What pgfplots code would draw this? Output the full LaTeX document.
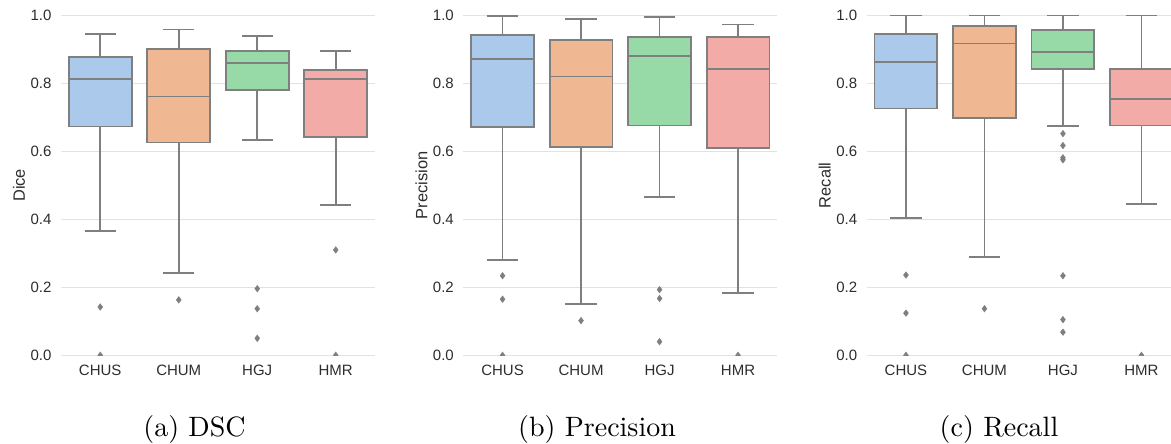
\documentclass[border=0pt]{standalone}
\usepackage{fontspec}
\usepackage{graphicx}
\usepackage{pgfplots}
\pgfplotsset{compat=1.18}
\usepgfplotslibrary{statistics}
\newfontfamily\sbfont{Liberation Sans}

\definecolor{cblue}{RGB}{171,201,234}
\definecolor{corange}{RGB}{239,183,146}
\definecolor{cgreen}{RGB}{152,218,167}
\definecolor{cred}{RGB}{243,171,168}
\definecolor{boxgray}{RGB}{127,127,127}
\definecolor{gridgray}{RGB}{226,226,226}
\definecolor{txtgray}{RGB}{45,45,45}

\pgfplotsset{
  sbaxis/.style={
    scale only axis, width=314pt, height=340pt, anchor=south west,
    xmin=-0.5, xmax=3.5, ymin=0, ymax=1,
    xtick={0,1,2,3}, xticklabels={CHUS,CHUM,HGJ,HMR},
    ytick={0,0.2,0.4,0.6,0.8,1.0},
    ymajorgrids, y grid style={gridgray, line width=1.2pt},
    axis line style={draw=none}, major tick length=0pt, tick style={draw=none},
    clip marker paths=true,
    /pgf/number format/assume math mode=true,
    yticklabel style={/pgf/number format/fixed, /pgf/number format/fixed zerofill, /pgf/number format/precision=1},
    ticklabel style={font=\sbfont\fontsize{15}{18}\selectfont, text=txtgray, inner sep=0pt},
    xticklabel style={anchor=north, yshift=-10pt},
    yticklabel style={anchor=east, xshift=-9.3pt},
    every axis y label/.style={at={(axis description cs:0,0.5)}, xshift=-36pt, rotate=90, anchor=base,
      font=\sbfont\fontsize{16.4}{19}\selectfont, text=txtgray},
    boxplot/draw direction=y,
    boxplot/box extend=0.8,
    boxplot/whisker extend=0.4,
  },
  sbbox/.style={draw=boxgray, fill=#1, line width=1.8pt, solid,
    mark=diamond*, mark size=3.3pt, mark options={draw=boxgray, fill=boxgray, line width=0.4pt}},
}

\begin{document}
\begin{tikzpicture}
\path[use as bounding box, clip] (0,0) rectangle (1171pt,444pt);

% (a) DSC
\begin{axis}[sbaxis, at={(61pt,88.7pt)}, ylabel={Dice}]
\addplot[sbbox=cblue, boxplot prepared={draw position=0, lower whisker=0.365, lower quartile=0.673, median=0.812, upper quartile=0.878, upper whisker=0.946}]
  table[row sep=\\, y index=0] {0.142\\ 0.0\\};
\addplot[sbbox=corange, boxplot prepared={draw position=1, lower whisker=0.241, lower quartile=0.626, median=0.761, upper quartile=0.900, upper whisker=0.958}]
  table[row sep=\\, y index=0] {0.163\\};
\addplot[sbbox=cgreen, boxplot prepared={draw position=2, lower whisker=0.633, lower quartile=0.781, median=0.860, upper quartile=0.896, upper whisker=0.939}]
  table[row sep=\\, y index=0] {0.196\\ 0.137\\ 0.050\\};
\addplot[sbbox=cred, boxplot prepared={draw position=3, lower whisker=0.443, lower quartile=0.643, median=0.812, upper quartile=0.839, upper whisker=0.895}]
  table[row sep=\\, y index=0] {0.310\\ 0.0\\};
\end{axis}

% (b) Precision
\begin{axis}[sbaxis, at={(463.3pt,88.7pt)}, ylabel={Precision}]
\addplot[sbbox=cblue, boxplot prepared={draw position=0, lower whisker=0.281, lower quartile=0.672, median=0.872, upper quartile=0.943, upper whisker=0.999}]
  table[row sep=\\, y index=0] {0.234\\ 0.165\\ 0.0\\};
\addplot[sbbox=corange, boxplot prepared={draw position=1, lower whisker=0.152, lower quartile=0.613, median=0.820, upper quartile=0.928, upper whisker=0.989}]
  table[row sep=\\, y index=0] {0.102\\};
\addplot[sbbox=cgreen, boxplot prepared={draw position=2, lower whisker=0.465, lower quartile=0.676, median=0.880, upper quartile=0.936, upper whisker=0.996}]
  table[row sep=\\, y index=0] {0.193\\ 0.167\\ 0.040\\};
\addplot[sbbox=cred, boxplot prepared={draw position=3, lower whisker=0.183, lower quartile=0.609, median=0.843, upper quartile=0.937, upper whisker=0.973}]
  table[row sep=\\, y index=0] {0.0\\};
\end{axis}

% (c) Recall
\begin{axis}[sbaxis, at={(866.7pt,88.7pt)}, ylabel={Recall}]
\addplot[sbbox=cblue, boxplot prepared={draw position=0, lower whisker=0.403, lower quartile=0.726, median=0.863, upper quartile=0.944, upper whisker=1.0}]
  table[row sep=\\, y index=0] {0.236\\ 0.124\\ 0.0\\};
\addplot[sbbox=corange, boxplot prepared={draw position=1, lower whisker=0.288, lower quartile=0.697, median=0.917, upper quartile=0.969, upper whisker=1.0}]
  table[row sep=\\, y index=0] {0.137\\};
\addplot[sbbox=cgreen, boxplot prepared={draw position=2, lower whisker=0.675, lower quartile=0.841, median=0.891, upper quartile=0.956, upper whisker=1.0}]
  table[row sep=\\, y index=0] {0.652\\ 0.617\\ 0.581\\ 0.575\\ 0.234\\ 0.105\\ 0.068\\};
\addplot[sbbox=cred, boxplot prepared={draw position=3, lower whisker=0.446, lower quartile=0.676, median=0.753, upper quartile=0.841, upper whisker=1.0}]
  table[row sep=\\, y index=0] {0.0\\};
\end{axis}

% sub-captions
\node[anchor=base] at (194.5pt,7pt) {\scalebox{2.8}{(a) DSC}};
\node[anchor=base] at (597pt,7pt) {\scalebox{2.8}{(b) Precision}};
\node[anchor=base] at (999pt,7pt) {\scalebox{2.8}{(c) Recall}};
\end{tikzpicture}
\end{document}
